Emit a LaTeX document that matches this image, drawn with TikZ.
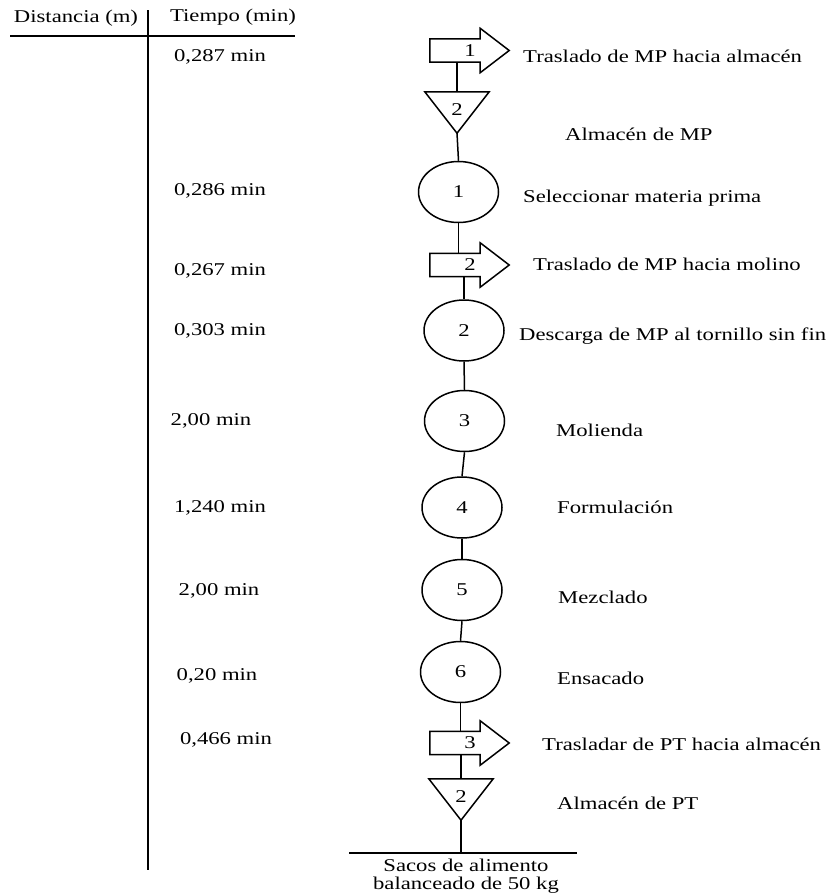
\documentclass[tikz,border=0pt]{standalone}
\usepackage{fontspec}
\setmainfont{Liberation Serif}[FakeStretch=1.26]
\usetikzlibrary{shapes.geometric,calc}

% transport: block arrow with its number
\newcommand\mvarrow[3]{%
  \node[body] (#1) at (#2) {};
  \draw[line] (#1.north west) -- (#1.north east) -- ++(0pt,10.5pt)
    -- ($(#1.east)+(29pt,0pt)$) -- ($(#1.south east)+(0pt,-10.5pt)$)
    -- (#1.south east) -- (#1.south west) -- cycle;
  \node (#1n) at ($(#1.center)+(15pt,0pt)$) {#3};}

% storage: downward triangle with its number
\newcommand\storage[3]{%
  \node[tribox] (#1) at (#2) {};
  \draw[line] (#1.north west) -- (#1.north east) -- (#1.south) -- cycle;
  \node (#1n) at ($(#1.center)+(0pt,3pt)$) {#3};}

\begin{document}
\begin{tikzpicture}[x=1pt,y=-1pt,
  every node/.style={font=\fontsize{18}{18}\selectfont, inner sep=0pt},
  line/.style={line width=1.5pt, black, line join=miter},
  opcirc/.style={draw, line width=1.5pt, ellipse, minimum width=80pt, minimum height=61pt},
  body/.style={minimum width=50pt, minimum height=23pt},
  tribox/.style={minimum width=64pt, minimum height=41pt},
  lbl/.style={anchor=west},
]
\useasboundingbox (0,0) rectangle (829,894);

% column headers and divider
\node (hd) at (76,18) {Distancia (m)};
\node (ht) at (233,17) {Tiempo (min)};
\coordinate (hl) at (10,36);
\coordinate (hr) at (295,36);
\coordinate (vt) at (148,10);
\coordinate (vb) at (148,870);
\draw[line] (hl) -- (hr);
\draw[line] (vt) -- (vb);

% times
\node (m1) at (220,57)  {0,287 min};
\node (m2) at (220,191) {0,286 min};
\node (m3) at (220,271) {0,267 min};
\node (m4) at (220,331) {0,303 min};
\node (m5) at (211,421) {2,00 min};
\node (m6) at (220,508) {1,240 min};
\node (m7) at (219,591) {2,00 min};
\node (m8) at (217,676) {0,20 min};
\node (m9) at (226,740) {0,466 min};

% symbols
\mvarrow{a1}{455,50.5}{1}
\storage{t1}{457,112.5}{2}
\node[opcirc] (c1) at (458.5,192) {1};
\mvarrow{a2}{455,265}{2}
\node[opcirc] (c2) at (464,330.5) {2};
\node[opcirc] (c3) at (464.5,421) {3};
\node[opcirc] (c4) at (462,507.5) {4};
\node[opcirc] (c5) at (462,590) {5};
\node[opcirc] (c6) at (460.5,672) {6};
\mvarrow{a3}{455,743}{3}
\storage{t2}{461,799.5}{2}

% connectors
\draw[line] (a1.south -| t1.north) -- (t1.north);
\draw[line] (t1.south) -- (c1.north);
\draw[line] (c1.south) -- (c1.south |- a2.north);
\draw[line] (a2.south -| c2.north) -- (c2.north);
\draw[line] (c2.south) -- (c3.north);
\draw[line] (c3.south) -- (c4.north);
\draw[line] (c4.south) -- (c5.north);
\draw[line] (c5.south) -- (c6.north);
\draw[line] (c6.south) -- (c6.south |- a3.north);
\draw[line] (a3.south -| t2.north) -- (t2.north);

% finished product
\coordinate (bl) at (349,853);
\coordinate (br) at (577,853);
\draw[line] (bl) -- (br);
\draw[line] (t2.south) -- (t2.south |- bl);
\node[align=center] (prod) at (466,876) {Sacos de alimento\\balanceado de 50 kg};

% activity descriptions
\node[lbl] (d1)  at (523,56)  {Traslado de MP hacia almacén};
\node[lbl] (d2)  at (565,134) {Almacén de MP};
\node[lbl] (d3)  at (523,198) {Seleccionar materia prima};
\node[lbl] (d4)  at (533,264) {Traslado de MP hacia molino};
\node[lbl] (d5)  at (519,336) {Descarga de MP al tornillo sin fin};
\node[lbl] (d6)  at (556,430) {Molienda};
\node[lbl] (d7)  at (557,507) {Formulación};
\node[lbl] (d8)  at (558,597) {Mezclado};
\node[lbl] (d9)  at (557,678) {Ensacado};
\node[lbl] (d10) at (542,744) {Trasladar de PT hacia almacén};
\node[lbl] (d11) at (557,803) {Almacén de PT};
\end{tikzpicture}
\end{document}
